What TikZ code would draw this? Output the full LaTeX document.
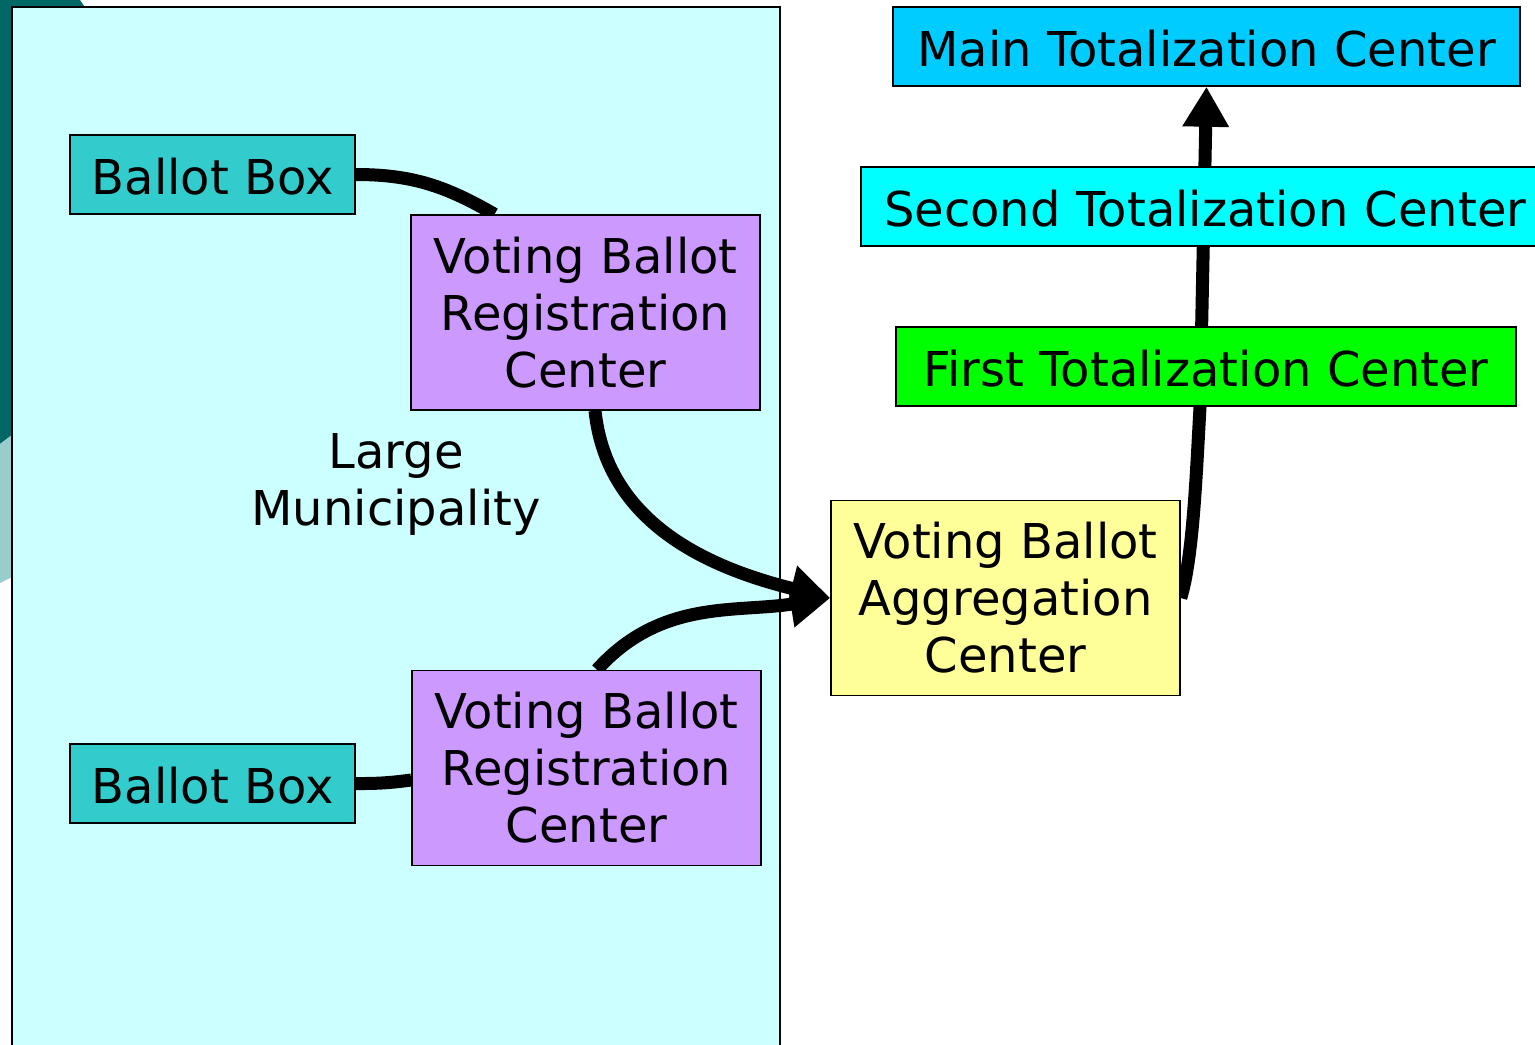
\documentclass[tikz,border=0pt]{standalone}
\usepackage{fontspec}
\setmainfont{DejaVu Sans}
\usetikzlibrary{arrows.meta}
\definecolor{deckdark}{HTML}{006666}
\definecolor{decklight}{HTML}{99CCCC}
\definecolor{muni}{HTML}{CCFFFF}
\definecolor{ballot}{HTML}{33CCCC}
\definecolor{regist}{HTML}{CC99FF}
\definecolor{aggr}{HTML}{FFFF99}
\definecolor{maintot}{HTML}{00CCFF}
\definecolor{secondtot}{HTML}{00FFFF}
\definecolor{firsttot}{HTML}{00FF00}
\pgfdeclarelayer{back}
\pgfdeclarelayer{wires}
\pgfsetlayers{back,wires,main}
\tikzset{
	centre/.style={draw=black, line width=0.75pt, inner sep=0pt, align=center,
		font=\fontsize{24}{28.5}\selectfont},
	regbox/.style={centre, fill=regist, minimum width=174.5pt, minimum height=97.5pt},
	ballotbox/.style={centre, fill=ballot, minimum width=142.5pt, minimum height=39.5pt, text height=20pt, text depth=0pt},
	totbox/.style={centre, minimum height=39.5pt, text height=20pt, text depth=0pt},
	wire/.style={line width=6.5pt},
	bigtip/.style={-{Triangle[length=20pt,width=22pt]}}
}

\begin{document}
\begin{tikzpicture}[x=0.5pt, y=-0.5pt]
		%%%%% START %%%%%
		\useasboundingbox (0, 0) rectangle (1535, 1044);
		
		\begin{pgfonlayer}{back}
			\fill[deckdark] (0, 0) -- (80, 0) -- (88, 12) -- (12, 12) -- (12, 435) -- (0, 444) -- cycle;
			\fill[decklight] (0, 444) -- (12, 435) -- (12, 577) -- (0, 583) -- cycle;
			\node[draw=black, line width=1pt, fill=muni, minimum width=384pt, minimum height=526.5pt, inner sep=0pt] (town) at (396, 533.5) {};
		\end{pgfonlayer}
		
		\node[align=center, font=\fontsize{24}{28.5}\selectfont] (townlabel) at (396, 484) {Large\\Municipality};
		
		\node[ballotbox] (boxtop) at (212.5, 174.5) {Ballot Box};
		\node[regbox] (regtop) at (585.5, 312.5) {Voting Ballot\\Registration\\Center};
		
		\node[ballotbox] (boxbot) at (212.5, 783.5) {Ballot Box};
		\node[regbox] (regbot) at (586.5, 768) {Voting Ballot\\Registration\\Center};
		
		\node[regbox, fill=aggr] (agg) at (1005.5, 598) {Voting Ballot\\Aggregation\\Center};
		
		\node[totbox, fill=firsttot, minimum width=310pt] (first) at (1206, 366.5) {First Totalization Center};
		\node[totbox, fill=secondtot, minimum width=342pt, text width=330pt, align=left] (second) at (1203, 206.5) {\hspace*{5.5pt}Second Totalization Center};
		\node[totbox, fill=maintot, minimum width=313.5pt] (maintot) at (1206.5, 46.5) {Main Totalization Center};
		
		\begin{pgfonlayer}{wires}
			\draw[wire] (boxtop.east) to[out=0, in=150] ([xshift=-45.5pt]regtop.north);
			\draw[wire] (boxbot.east) to[bend right=4] ([yshift=-6pt]regbot.west);
			\draw[wire, bigtip] ([xshift=4.75pt]regtop.south) to[out=-84, in=166] (agg.west);
			\draw[wire, bigtip] ([xshift=5.25pt]regbot.north) to[out=48, in=189] (agg.west);
			\draw[wire, bigtip] (agg.east) .. controls +(12, -40) and (1196, 480) .. ([xshift=-3pt]first.south) -- (maintot.south);
		\end{pgfonlayer}
		%%%%% END %%%%%
	\end{tikzpicture}
\end{document}
